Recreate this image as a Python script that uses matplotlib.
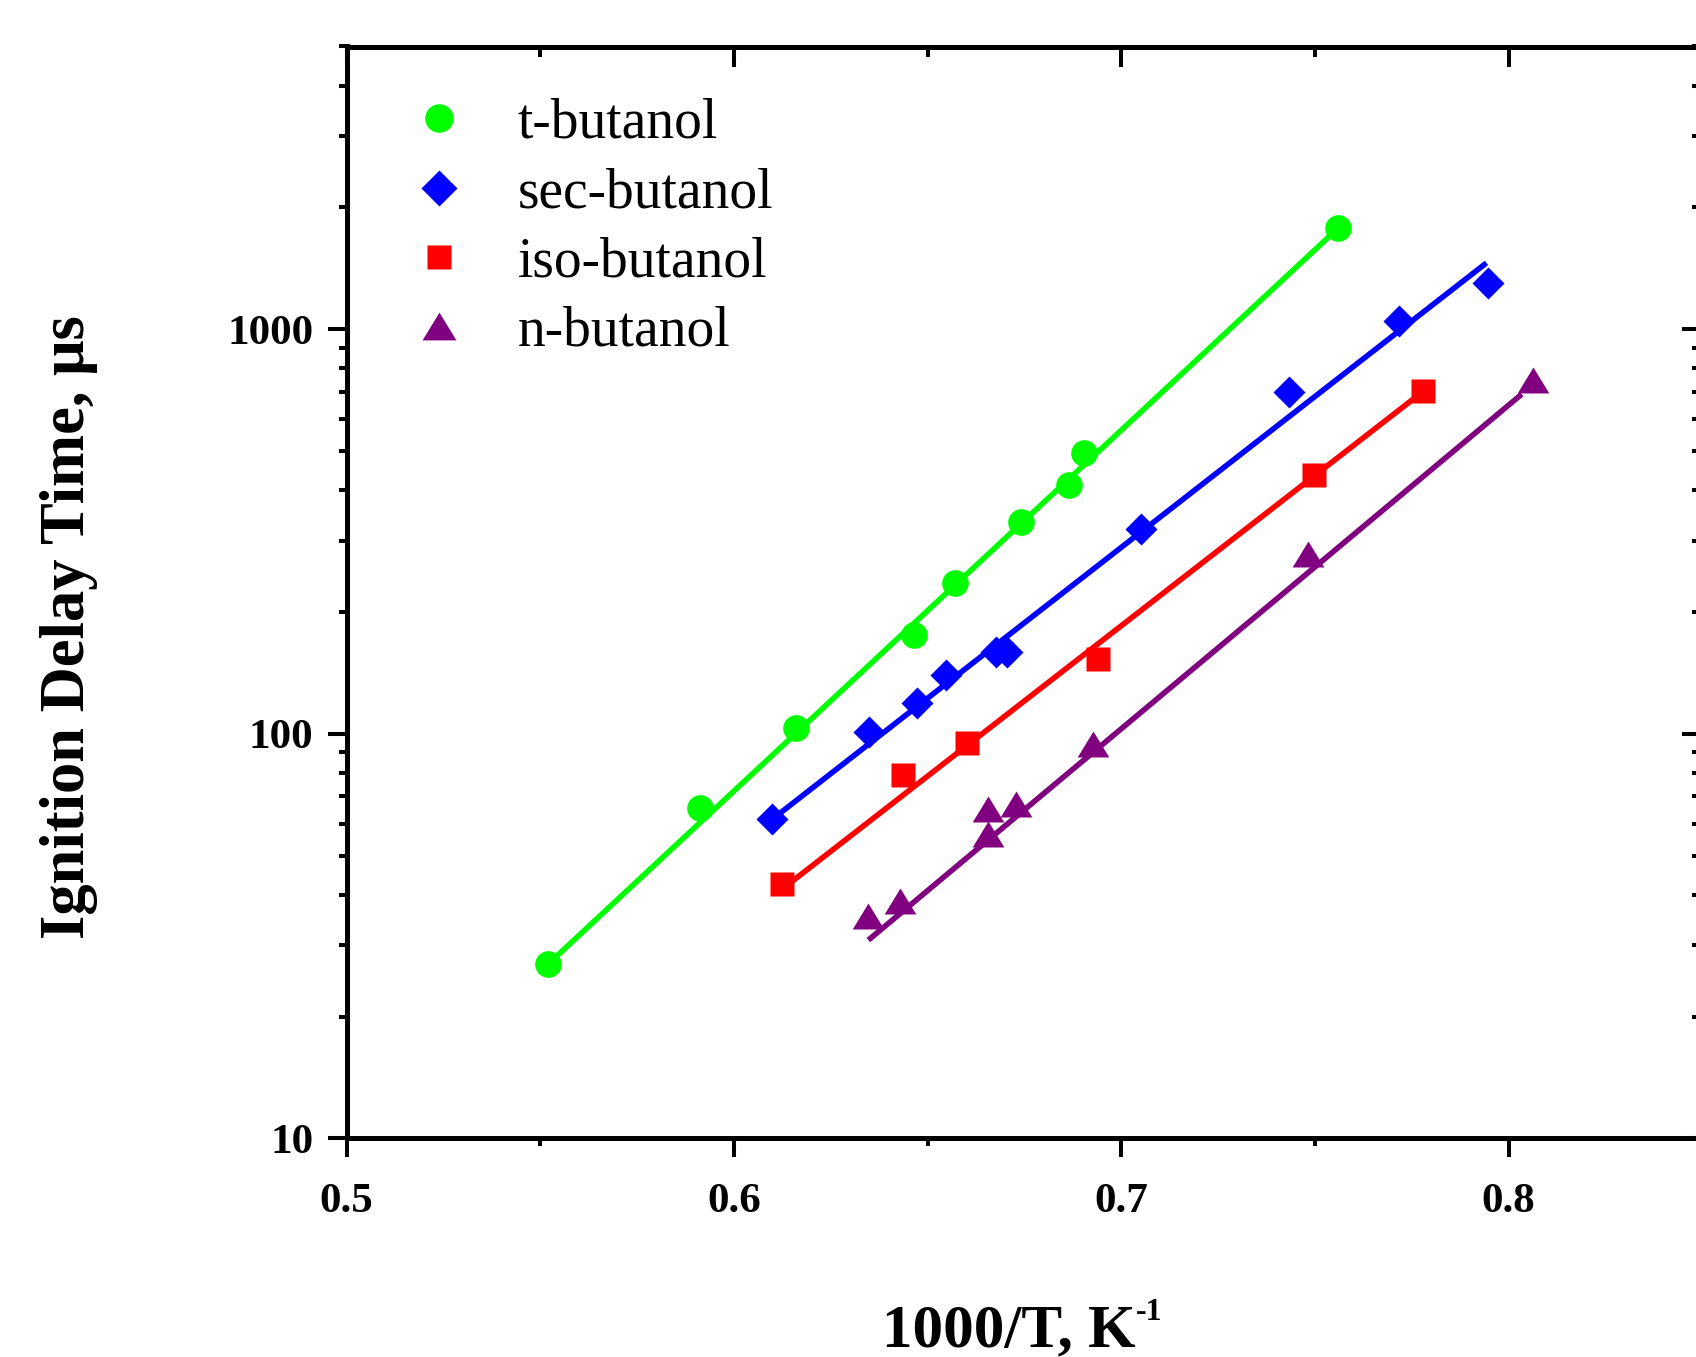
import matplotlib
matplotlib.use("Agg")
import matplotlib.pyplot as plt
from matplotlib.ticker import MultipleLocator, LogLocator, NullFormatter, FuncFormatter

plt.rcParams["font.family"] = ["Liberation Serif", "DejaVu Serif"]
plt.rcParams["font.weight"] = "bold"

# Ignition delay data, 1000/T [1/K] vs delay [microseconds]
t_butanol_x = [0.5521, 0.5912, 0.6159, 0.6466, 0.6571, 0.6742, 0.6866, 0.6904, 0.7560]
t_butanol_y = [27.0, 65.6, 103.5, 175.8, 236, 334, 412, 494, 1778]

sec_butanol_x = [0.6099, 0.6349, 0.6472, 0.6547, 0.6676, 0.6706, 0.7050, 0.7434, 0.7716, 0.7948]
sec_butanol_y = [61.4, 101, 119, 140, 159, 159, 321, 698, 1048, 1303]

iso_butanol_x = [0.6123, 0.6436, 0.6601, 0.6940, 0.7498, 0.7780]
iso_butanol_y = [42.5, 78.9, 95.1, 152.8, 437, 702]

n_butanol_x = [0.6345, 0.6429, 0.6657, 0.6657, 0.6727, 0.6926, 0.7481, 0.8062]
n_butanol_y = [35.4, 38.6, 65.0, 56.5, 67.0, 94.6, 278, 748]

# Arrhenius fit lines (end points)
t_fit_x = [0.5521, 0.7560]
t_fit_y = [27.0, 1778]
sec_fit_x = [0.6099, 0.7943]
sec_fit_y = [61.5, 1459]
iso_fit_x = [0.6145, 0.7759]
iso_fit_y = [42.8, 678]
n_fit_x = [0.6347, 0.8034]
n_fit_y = [30.9, 691]

labels = ["t-butanol", "sec-butanol", "iso-butanol", "n-butanol"]
colors = ["#00ff00", "#0000ff", "#ff0000", "#800080"]

W, H = 1696, 1357
fig = plt.figure(figsize=(W / 100, H / 100), dpi=100)
ax_l, ax_r, ax_b, ax_t = 346.7, 1702.2, 1138.3, 46.5
ax = fig.add_axes([ax_l / W, 1 - ax_b / H, (ax_r - ax_l) / W, (ax_b - ax_t) / H])

ax.set_yscale("log")
ax.set_xlim(0.5, 0.85)
ax.set_ylim(10, 5000)

lw_fit = 4.0
ax.plot(t_fit_x, t_fit_y, color=colors[0], lw=lw_fit, solid_capstyle="butt")
ax.plot(sec_fit_x, sec_fit_y, color=colors[1], lw=lw_fit, solid_capstyle="butt")
ax.plot(iso_fit_x, iso_fit_y, color=colors[2], lw=lw_fit, solid_capstyle="butt")
ax.plot(n_fit_x, n_fit_y, color=colors[3], lw=lw_fit, solid_capstyle="butt")

tri = [(0, 0.82), (-1, -0.82), (1, -0.82), (0, 0.82)]
h1, = ax.plot(t_butanol_x, t_butanol_y, ls="none", marker="o", ms=19.2,
              color=colors[0], mec="none", label=labels[0])
h2, = ax.plot(sec_butanol_x, sec_butanol_y, ls="none", marker="D", ms=16.8,
              color=colors[1], mec="none", label=labels[1])
h3, = ax.plot(iso_butanol_x, iso_butanol_y, ls="none", marker="s", ms=16.8,
              color=colors[2], mec="none", label=labels[2])
h4, = ax.plot(n_butanol_x, n_butanol_y, ls="none", marker=tri, ms=22.8,
              color=colors[3], mec="none", label=labels[3])

# axis styling
spine_w = 3.4
for s in ax.spines.values():
    s.set_linewidth(spine_w)

ax.xaxis.set_major_locator(MultipleLocator(0.1))
ax.xaxis.set_minor_locator(MultipleLocator(0.05))
ax.xaxis.set_major_formatter(FuncFormatter(lambda v, p: f"{v:.1f}"))
ax.yaxis.set_major_locator(LogLocator(base=10))
ax.yaxis.set_minor_locator(LogLocator(base=10, subs=range(2, 10)))
ax.yaxis.set_major_formatter(FuncFormatter(lambda v, p: f"{v:g}"))
ax.yaxis.set_minor_formatter(NullFormatter())

ax.tick_params(axis="both", which="major", direction="out", length=14, width=2.9,
               labelsize=31, top=False, right=False)
ax.tick_params(axis="both", which="minor", direction="out", length=6, width=2.9,
               top=False, right=False)
ax.tick_params(axis="x", which="major", pad=18)
ax.tick_params(axis="y", which="major", pad=10)

# inward ticks on the top and right edges
axt = ax.twiny()
axt.set_xlim(ax.get_xlim())
axt.xaxis.set_major_locator(MultipleLocator(0.1))
axt.xaxis.set_minor_locator(MultipleLocator(0.05))
axt.xaxis.set_major_formatter(NullFormatter())
axt.tick_params(axis="x", which="major", direction="in", length=14.4, width=2.9)
axt.tick_params(axis="x", which="minor", direction="in", length=7.2, width=2.9)

axr = ax.twinx()
axr.set_yscale("log")
axr.set_ylim(ax.get_ylim())
axr.yaxis.set_major_locator(LogLocator(base=10))
axr.yaxis.set_minor_locator(LogLocator(base=10, subs=range(2, 10)))
axr.yaxis.set_major_formatter(NullFormatter())
axr.yaxis.set_minor_formatter(NullFormatter())
axr.tick_params(axis="y", which="major", direction="in", length=14.4, width=2.9)
axr.tick_params(axis="y", which="minor", direction="in", length=7.2, width=2.9)
for a in (axt, axr):
    for s in a.spines.values():
        s.set_linewidth(spine_w)

leg = ax.legend(handles=[h1, h2, h3, h4], loc="upper left",
                bbox_to_anchor=(0.0476, 0.953), frameon=False, borderpad=0,
                borderaxespad=0, handlelength=1.0, handletextpad=0.92,
                labelspacing=0.31, markerscale=1.07,
                prop={"size": 40, "weight": "normal"})
leg.set_zorder(10)

# axis titles
fig.text(84 / W, 1 - 627 / H, "Ignition Delay Time, \u03bcs", rotation=90,
         rotation_mode="anchor", ha="center", va="baseline",
         fontsize=45, fontweight="bold")
xl = fig.text(881.7 / W, (H - 1346.7) / H, "1000/T, K", ha="left", va="baseline",
              fontsize=44, fontweight="bold")
sup = plt.annotate("-1", xy=(1, 1), xycoords=xl, xytext=(1, -16),
                   textcoords="offset pixels", ha="left", va="baseline",
                   fontsize=23, fontweight="bold", annotation_clip=False)

fig.savefig("out.png", dpi=100)
